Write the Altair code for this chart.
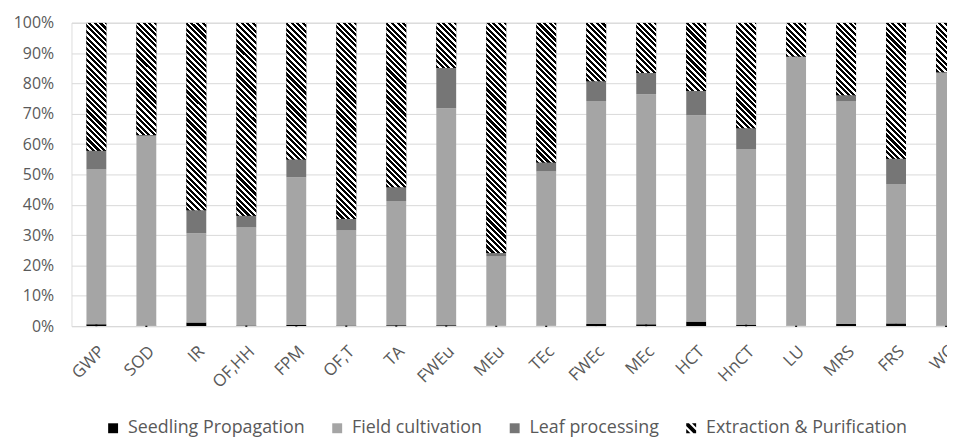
import math
import altair as alt
import pandas as pd

categories = ["GWP", "SOD", "IR", "OF,HH", "FPM", "OF,T", "TA", "FWEu", "MEu", "TEc",
              "FWEc", "MEc", "HCT", "HnCT", "LU", "MRS", "FRS", "WC"]
stages = ["Seedling Propagation", "Field cultivation", "Leaf processing", "Extraction & Purification"]
seedling = [0.6, 0.1, 1.2, 0.2, 0.4, 0.2, 0.3, 0.3, 0.1, 0.1, 0.7, 0.6, 1.5, 0.5, 0.1, 0.8, 0.9, 0.1]
field = [51.0, 62.6, 29.4, 32.3, 48.7, 31.3, 40.9, 71.5, 22.9, 50.9, 73.5, 75.8, 68.0, 57.9, 88.5, 73.2, 45.9, 83.4]
leaf = [6.2, 0.3, 7.6, 3.9, 5.8, 3.8, 4.6, 13.3, 1.1, 2.9, 6.5, 7.0, 8.0, 6.8, 0.3, 2.1, 8.4, 0.2]
extraction = [42.2, 37.0, 61.8, 63.6, 45.1, 64.7, 54.2, 14.9, 75.9, 46.1, 19.3, 16.6, 22.5, 34.8, 11.1, 23.9, 44.8, 16.3]
colors = ["#000000", "#A5A5A5", "#767676", "#000000"]

series = [seedling, field, leaf, extraction]
rows = []
for i, c in enumerate(categories):
    for k, s in enumerate(stages):
        rows.append({"category": c, "stage": s, "order": k, "value": series[k][i]})
df = pd.DataFrame(rows)

FONT = "Open Sans"
GRID = "#D9D9D9"
TXT = "#595959"
PLOT_W, PLOT_H = 883, 306
BAR_W = 20.0
PERIOD = 4.0  # perpendicular stripe period in px
DARK = 0.55   # dark share of each stripe period

x_enc = alt.X("category:N", sort=categories, title=None,
              scale=alt.Scale(domain=categories, range=[0, 907.2], paddingInner=0.603, paddingOuter=0.3),
              axis=alt.Axis(labelAngle=-45, labelFontSize=17, labelFont=FONT, labelColor=TXT,
                            ticks=False, domainColor=GRID, domainWidth=1, labelPadding=17,
                            grid=False))
y_axis = alt.Axis(format=".0%", values=[i / 10 for i in range(11)], grid=True,
                  gridColor=GRID, gridWidth=1, domain=False, ticks=False, orient="left",
                  labelFontSize=16, labelFont=FONT, labelColor=TXT, labelPadding=18)
y_scale = alt.Scale(domain=[0, 1], nice=False)
y_enc = alt.Y("y0:Q", title=None, scale=y_scale, axis=y_axis)

hatch_path = ("M-1,-1 L-0.45,-1 L1,0.45 L1,1 L0.45,1 L-1,-0.45 Z "
              "M0.15,-1 L1,-1 L1,-0.15 Z M-1,0.15 L-0.15,1 L-1,1 Z")

legend = alt.Legend(title=None, orient="none", legendX=33, legendY=400, direction="horizontal",
                    symbolSize=100, symbolStrokeWidth=0, labelFontSize=18, labelFont=FONT,
                    labelColor=TXT, columnPadding=23, labelOffset=6, labelLimit=400)

color_scale = alt.Scale(domain=stages, range=colors)

base = alt.Chart(df)

legend_pts = base.mark_point(filled=True, size=4, opacity=1).encode(
    x=x_enc,
    y=alt.Y("ymid:Q", title=None, scale=y_scale, axis=y_axis),
    color=alt.Color("stage:N", scale=color_scale, legend=legend, sort=stages),
    shape=alt.Shape("stage:N", scale=alt.Scale(domain=stages, range=["square", "square", "square", hatch_path]),
                    legend=legend, sort=stages),
)

bars = base.mark_bar(clip=True, strokeWidth=0).encode(
    x=x_enc, y=y_enc, y2="y1:Q",
    color=alt.Color("stage:N", scale=color_scale, legend=None),
)

layers = [legend_pts, bars]
for i, c in enumerate(categories):
    tot = seedling[i] + field[i] + leaf[i] + extraction[i]
    H = max(extraction[i] / tot * PLOT_H, 1.0)
    W = BAR_W
    s = (1 / H + 1 / W) / (1 / H ** 2 + 1 / W ** 2)
    x1, y1 = 0.0, 1.0
    x2, y2 = s / H, 1.0 - s / W
    N = (W + H) / (math.sqrt(2) * PERIOD)
    stops = []
    k = 0
    while k / N < 1:
        a = k / N
        b = min((k + DARK) / N, 1.0)
        e = min((k + 1) / N, 1.0)
        stops += [alt.GradientStop(offset=a, color="#000000"), alt.GradientStop(offset=b, color="#000000"),
                  alt.GradientStop(offset=b, color="#FFFFFF"), alt.GradientStop(offset=e, color="#FFFFFF")]
        k += 1
    grad = alt.LinearGradient(gradient="linear", stops=stops, x1=x1, y1=y1, x2=x2, y2=y2)
    layers.append(
        base.mark_bar(clip=True, fill=grad, strokeWidth=0).encode(x=x_enc, y=y_enc, y2="y1:Q")
        .transform_filter(alt.FieldEqualPredicate(field="category", equal=c))
        .transform_filter(alt.FieldEqualPredicate(field="stage", equal=stages[3]))
    )

chart = alt.layer(*layers).transform_stack(
    stack="value", groupby=["category"], as_=["y0", "y1"],
    sort=[alt.SortField("order", order="ascending")], offset="normalize"
).transform_calculate(
    ymid="(datum.y0 + datum.y1) / 2"
).resolve_axis(y="shared").properties(
    width=PLOT_W, height=PLOT_H,
    autosize=alt.AutoSizeParams(type="none"),
    padding={"left": 64, "top": 13, "right": 0, "bottom": 111},
).configure_view(stroke=None).configure(background="white")

chart.save("out.html", embed_options={"renderer": "svg", "actions": False})
